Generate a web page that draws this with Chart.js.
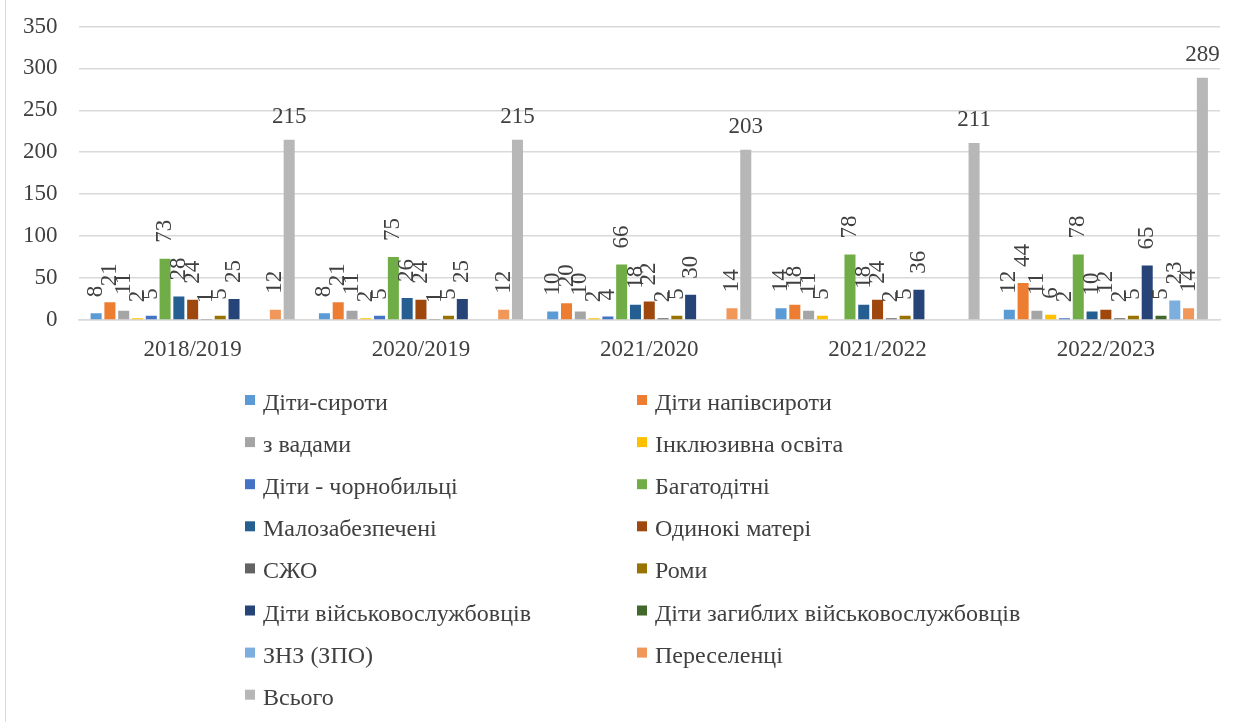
<!DOCTYPE html>
<html>
<head>
<meta charset="utf-8">
<script src="https://cdn.jsdelivr.net/npm/chart.js@4.4.1/dist/chart.umd.min.js"></script>
<style>
  body { margin: 0; background: #fff; }
  #wrap { position: relative; width: 1238px; height: 722px; }
  #edge { position: absolute; left: 5px; top: 0; width: 1px; height: 722px; background: #D9D9D9; }
</style>
</head>
<body>
<div id="wrap">
  <canvas id="chart" width="1238" height="722"></canvas>
  <div id="edge"></div>
</div>
<script>
// роки навчання
const years = ['2018/2019', '2020/2019', '2021/2020', '2021/2022', '2022/2023'];

// категорії учнів
const groups = ['Діти-сироти', 'Діти напівсироти', 'з вадами', 'Інклюзивна освіта',
  'Діти - чорнобильці', 'Багатодітні', 'Малозабезпечені', 'Одинокі матері', 'СЖО',
  'Роми', 'Діти військовослужбовців', 'Діти загиблих військовослужбовців',
  'ЗНЗ (ЗПО)', 'Переселенці', 'Всього'];

const colors = ['#5B9BD5', '#ED7D31', '#A5A5A5', '#FFC000', '#4472C4', '#70AD47',
  '#255E91', '#9E480E', '#636363', '#997300', '#264478', '#43682B',
  '#7CAFDD', '#F1975A', '#B7B7B7'];

// значення по кожній категорії (по роках)
const syroty = [8, 8, 10, 14, 12];
const napivsyroty = [21, 21, 20, 18, 44];
const vadamy = [11, 11, 10, 11, 11];
const inkluziya = [2, 2, 2, 5, 6];
const chornobyl = [5, 5, 4, null, 2];
const bagatoditni = [73, 75, 66, 78, 78];
const malozabezp = [28, 26, 18, 18, 10];
const odynoki = [24, 24, 22, 24, 12];
const szho = [1, 1, 2, 2, 2];
const romy = [5, 5, 5, 5, 5];
const viiskovi = [25, 25, 30, 36, 65];
const zagybli = [null, null, null, null, 5];
const znz = [null, null, null, null, 23];
const pereselentsi = [12, 12, 14, null, 14];
const vsogo = [215, 215, 203, 211, 289];

const seriesValues = [syroty, napivsyroty, vadamy, inkluziya, chornobyl, bagatoditni,
  malozabezp, odynoki, szho, romy, viiskovi, zagybli, znz, pereselentsi, vsogo];

const yTicks = [0, 50, 100, 150, 200, 250, 300, 350];

const serif = "'Liberation Serif', 'DejaVu Serif', serif";

// підписи значень над стовпцями
const valueLabels = {
  id: 'valueLabels',
  afterDatasetsDraw(chart) {
    const ctx = chart.ctx;
    ctx.save();
    ctx.fillStyle = '#404040';
    ctx.font = '23px ' + serif;
    chart.data.datasets.forEach((ds, i) => {
      const meta = chart.getDatasetMeta(i);
      meta.data.forEach((bar, j) => {
        const v = ds.data[j];
        if (v == null) return;
        if (i === chart.data.datasets.length - 1) {
          ctx.textAlign = 'center';
          ctx.textBaseline = 'alphabetic';
          ctx.fillText(String(v), bar.x, bar.y - 17);
        } else {
          ctx.save();
          ctx.translate(bar.x, bar.y - 16);
          ctx.rotate(-Math.PI / 2);
          ctx.textAlign = 'left';
          ctx.textBaseline = 'middle';
          ctx.fillText(String(v), 0, 0);
          ctx.restore();
        }
      });
    });
    ctx.restore();
  }
};

// легенда у дві колонки під графіком
const twoColLegend = {
  id: 'twoColLegend',
  afterDraw(chart) {
    const ctx = chart.ctx;
    ctx.save();
    ctx.font = '24px ' + serif;
    ctx.textAlign = 'left';
    ctx.textBaseline = 'alphabetic';
    chart.data.datasets.forEach((ds, i) => {
      const col = i % 2, row = Math.floor(i / 2);
      const x = col === 0 ? 245 : 637;
      const cy = 400 + row * 42.1;
      ctx.fillStyle = ds.backgroundColor;
      ctx.fillRect(x, cy - 5, 10, 10);
      ctx.fillStyle = '#404040';
      ctx.fillText(ds.label, x + 18, cy + 10);
    });
    ctx.restore();
  }
};

const chart = new Chart(document.getElementById('chart'), {
  type: 'bar',
  data: {
    labels: years,
    datasets: groups.map((g, i) => ({
      label: g,
      data: seriesValues[i],
      backgroundColor: colors[i],
      categoryPercentage: 0.906,
      barPercentage: 0.8
    }))
  },
  options: {
    responsive: false,
    animation: false,
    layout: { padding: { top: 26.5, right: 18, left: 0, bottom: 342.5 } },
    plugins: {
      legend: { display: false },
      tooltip: { enabled: false }
    },
    scales: {
      x: {
        grid: { display: false, drawTicks: false },
        border: { color: '#D9D9D9', width: 1.5 },
        ticks: { color: '#404040', font: { family: serif, size: 23 }, padding: 16 }
      },
      y: {
        min: 0,
        max: 350,
        afterBuildTicks(axis) { axis.ticks = yTicks.map(v => ({ value: v })); },
        afterFit(axis) {
          axis.width = 78.5;
          axis.paddingTop = 0;
          axis.paddingBottom = 0;
        },
        grid: { color: '#D9D9D9', lineWidth: 1.5, drawTicks: false },
        border: { display: false },
        ticks: { color: '#404040', font: { family: serif, size: 23 }, padding: 21 }
      }
    }
  },
  plugins: [valueLabels, twoColLegend]
});
</script>
</body>
</html>
